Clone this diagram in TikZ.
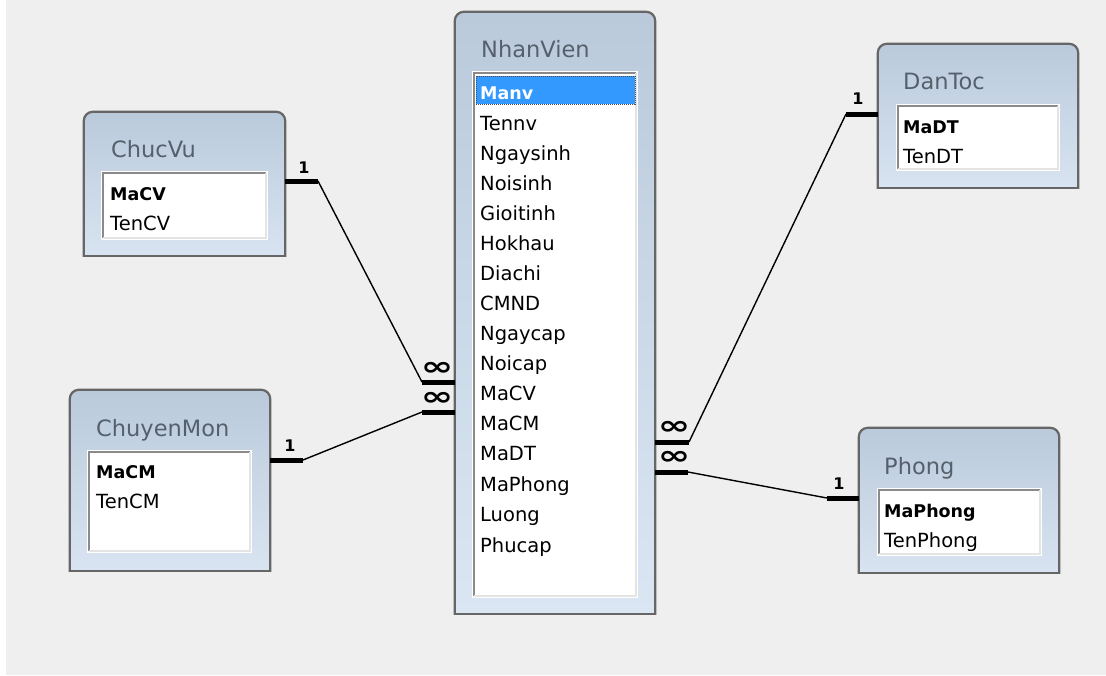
\documentclass[tikz,border=0pt]{standalone}
\usepackage{graphicx}
\usepackage{fontspec}
\setmainfont{DejaVu Sans}
\usetikzlibrary{fit}
\definecolor{bg}{HTML}{EFEFEF}
\definecolor{tabtop}{HTML}{BACADB}
\definecolor{tabbot}{HTML}{DCE7F4}
\definecolor{tabborder}{HTML}{666666}
\definecolor{titlecol}{HTML}{56606C}
\definecolor{selblue}{HTML}{3399FF}
\definecolor{listdark}{HTML}{8A8A8A}
\definecolor{listlight}{HTML}{E4E4E4}

\newcommand\acctable[5]{%
  \node[fit={(#2,#3) (#4,#5)}, inner sep=0pt] (#1) {};
  \begin{scope}
    \clip ([shift={(-3,-3)}]#1.north west) rectangle ([shift={(3,0)}]#1.south east);
    \shade[top color=tabtop, bottom color=tabbot, draw=tabborder, line width=2.2pt, rounded corners=9pt]
      (#1.north west) rectangle ([yshift=-20pt]#1.south east);
  \end{scope}
  \draw[tabborder, line width=2.2pt, line cap=rect] (#1.south west) -- (#1.south east);
}
\newcommand\acclist[5]{%
  \node[fit={(#2,#3) (#4,#5)}, inner sep=0pt, fill=white] (#1) {};
  \draw[listdark, line width=1.5pt] ([shift={(2,-2)}]#1.south west) -- ([shift={(2,2)}]#1.north west) -- ([shift={(-2,2)}]#1.north east);
  \draw[listlight, line width=1.5pt] ([shift={(-2,2)}]#1.north east) -- ([shift={(-2,-2)}]#1.south east) -- ([shift={(2,-2)}]#1.south west);
}
\newcommand\manysym{\scalebox{1.5}[1]{∞}}

\tikzset{
  x=1pt, y=-1pt,
  tabtitle/.style={font=\fontsize{22.5}{27}\selectfont, text=titlecol, inner sep=0pt, anchor=base west},
  field/.style={font=\fontsize{19.5}{23}\selectfont, inner sep=0pt, anchor=base west},
  keyfield/.style={field, font=\fontsize{17.5}{21}\bfseries\selectfont},
  bar/.style={line width=5pt},
  link/.style={line width=1.4pt},
  one/.style={font=\fontsize{16}{16}\bfseries\selectfont, inner sep=0pt},
  many/.style={font=\fontsize{26}{26}\bfseries\selectfont, inner sep=0pt},
}

\begin{document}
\begin{tikzpicture}
\useasboundingbox (0,0) rectangle (1106,675);
\fill[white] (0,0) rectangle (1106,675);
\fill[bg] (6,0) rectangle (1106,675);

% ---------- ChucVu
\acctable{chucvu}{84}{112}{285}{256}
\node[tabtitle] (chucvu-t) at (111,157) {ChucVu};
\acclist{chucvu-l}{101}{171}{268}{240}
\node[keyfield] (chucvu-f1) at (110,200) {MaCV};
\node[field] (chucvu-f2) at (110,230) {TenCV};

% ---------- ChuyenMon
\acctable{chuyenmon}{70}{390}{270}{571}
\node[tabtitle] (chuyenmon-t) at (96,436) {ChuyenMon};
\acclist{chuyenmon-l}{87}{450}{252}{553}
\node[keyfield] (chuyenmon-f1) at (96,478) {MaCM};
\node[field] (chuyenmon-f2) at (96,508) {TenCM};

% ---------- NhanVien
\acctable{nhanvien}{455}{12}{655}{614}
\node[tabtitle] (nhanvien-t) at (481,57) {NhanVien};
\acclist{nhanvien-l}{472}{71}{638}{598}
\node[fit={(476,76) (635,104)}, inner sep=0pt, fill=selblue, draw=black!70, densely dotted, line width=1pt] (nhanvien-sel) {};
\node[keyfield, text=white] (nv-f1) at (480,99) {Manv};
\node[field] (nv-f2) at (480,130) {Tennv};
\node[field] (nv-f3) at (480,160) {Ngaysinh};
\node[field] (nv-f4) at (480,190) {Noisinh};
\node[field] (nv-f5) at (480,220) {Gioitinh};
\node[field] (nv-f6) at (480,250) {Hokhau};
\node[field] (nv-f7) at (480,280) {Diachi};
\node[field] (nv-f8) at (480,310) {CMND};
\node[field] (nv-f9) at (480,340) {Ngaycap};
\node[field] (nv-f10) at (480,370) {Noicap};
\node[field] (nv-f11) at (480,400) {MaCV};
\node[field] (nv-f12) at (480,430) {MaCM};
\node[field] (nv-f13) at (480,460) {MaDT};
\node[field] (nv-f14) at (480,491) {MaPhong};
\node[field] (nv-f15) at (480,521) {Luong};
\node[field] (nv-f16) at (480,552) {Phucap};

% ---------- DanToc
\acctable{dantoc}{878}{44}{1078}{188}
\node[tabtitle] (dantoc-t) at (903,89) {DanToc};
\acclist{dantoc-l}{896}{104}{1060}{171}
\node[keyfield] (dantoc-f1) at (903,133) {MaDT};
\node[field] (dantoc-f2) at (903,163) {TenDT};

% ---------- Phong
\acctable{phong}{859}{428}{1059}{573}
\node[tabtitle] (phong-t) at (884,474) {Phong};
\acclist{phong-l}{877}{488}{1042}{556}
\node[keyfield] (phong-f1) at (884,517) {MaPhong};
\node[field] (phong-f2) at (884,547) {TenPhong};

% ---------- relationships
% ChucVu -> NhanVien
\coordinate (cvA) at (chucvu.east |- 0,181);
\coordinate (cvB) at (318,181);
\coordinate (nvA) at (nhanvien.west |- 0,382);
\coordinate (nvAb) at (422,382);
\draw[bar] (cvA) -- (cvB);
\draw[link] (cvB) -- (nvAb);
\draw[bar] (nvAb) -- (nvA);
\node[one] (cv-one) at (304,168) {1};
\node[many] (nv-manyA) at (437,369) {\manysym};

% ChuyenMon -> NhanVien
\coordinate (cmA) at (chuyenmon.east |- 0,460);
\coordinate (cmB) at (303,460);
\coordinate (nvB) at (nhanvien.west |- 0,412);
\coordinate (nvBb) at (422,412);
\draw[bar] (cmA) -- (cmB);
\draw[link] (cmB) -- (nvBb);
\draw[bar] (nvBb) -- (nvB);
\node[one] (cm-one) at (290,446) {1};
\node[many] (nv-manyB) at (437,399) {\manysym};

% DanToc -> NhanVien
\coordinate (dtA) at (dantoc.west |- 0,114);
\coordinate (dtB) at (846,114);
\coordinate (nvC) at (nhanvien.east |- 0,442);
\coordinate (nvCb) at (689,442);
\draw[bar] (dtA) -- (dtB);
\draw[link] (dtB) -- (nvCb);
\draw[bar] (nvCb) -- (nvC);
\node[one] (dt-one) at (858,99) {1};
\node[many] (nv-manyC) at (674,428) {\manysym};

% Phong -> NhanVien
\coordinate (phA) at (phong.west |- 0,498);
\coordinate (phB) at (827,498);
\coordinate (nvD) at (nhanvien.east |- 0,472);
\coordinate (nvDb) at (688,472);
\draw[bar] (phA) -- (phB);
\draw[link] (phB) -- (nvDb);
\draw[bar] (nvDb) -- (nvD);
\node[one] (ph-one) at (839,484) {1};
\node[many] (nv-manyD) at (674,458) {\manysym};
\end{tikzpicture}
\end{document}
